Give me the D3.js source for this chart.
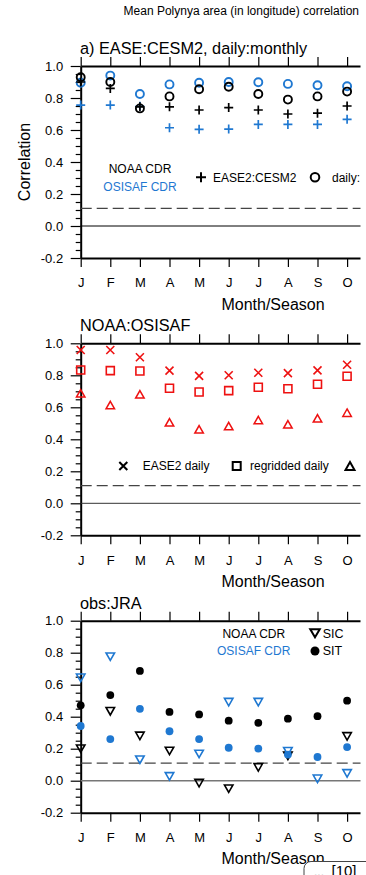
<!DOCTYPE html>
<html>
<head>
<meta charset="utf-8">
<script src="https://cdn.jsdelivr.net/npm/d3@7"></script>
<style>
  html, body { margin: 0; padding: 0; background: #fff; }
  svg { display: block; font-family: "Liberation Sans", Arial, Helvetica, sans-serif; }
</style>
</head>
<body>
<svg id="chart" width="366" height="875"></svg>
<script>
// ---- data ----
const months = ["J", "F", "M", "A", "M", "J", "J", "A", "S", "O"];
const yTicks = [-0.2, 0.0, 0.2, 0.4, 0.6, 0.8, 1.0];
const sigLevel = 0.11;

// a) EASE:CESM2, daily:monthly
const noaaDaily   = [0.93, 0.90, 0.735, 0.81, 0.855, 0.87, 0.825, 0.79, 0.81, 0.84];
const osisafDaily = [0.895, 0.94, 0.825, 0.885, 0.895, 0.90, 0.898, 0.888, 0.88, 0.873];
const noaaEase    = [0.90, 0.86, 0.745, 0.745, 0.725, 0.74, 0.725, 0.70, 0.705, 0.75];
const osisafEase  = [0.756, 0.756, 0.748, 0.614, 0.604, 0.606, 0.635, 0.635, 0.635, 0.667];

// NOAA:OSISAF
const easeDaily      = [0.958, 0.958, 0.9125, 0.829, 0.796, 0.80, 0.816, 0.814, 0.831, 0.866];
const regriddedDaily = [0.833, 0.829, 0.827, 0.719, 0.696, 0.704, 0.725, 0.716, 0.744, 0.794];
const monthlyCorr    = [0.6875, 0.614, 0.681, 0.506, 0.4625, 0.483, 0.52, 0.494, 0.531, 0.566];

// obs:JRA
const sitNoaa   = [0.471, 0.535, 0.686, 0.43, 0.414, 0.375, 0.362, 0.3875, 0.403, 0.50];
const sitOsisaf = [0.342, 0.26, 0.449, 0.309, 0.26, 0.206, 0.201, 0.163, 0.148, 0.21];
const sicNoaa   = [0.20, 0.434, 0.28, 0.186, -0.015, -0.05, 0.083, 0.155, null, 0.277];
const sicOsisaf = [0.643, 0.775, 0.131, 0.027, 0.167, 0.491, 0.491, 0.184, 0.012, 0.046];

// ---- layout ----
const BLUE = "#1f78d1";
const RED = "#ee1111";
const svg = d3.select("#chart");
svg.append("defs").append("clipPath").attr("id", "frame")
  .append("rect").attr("x", 0).attr("y", 0).attr("width", 360.5).attr("height", 875);
const root = svg.append("g").attr("clip-path", "url(#frame)");

const x = d3.scaleLinear().domain([0, 13]).range([80.7, 465.5]);
const yMinor = d3.range(-4, 21).filter(i => i % 4 !== 0).map(i => i / 20);

// marker shapes
const plusPath  = r => `M${-r},0H${r}M0,${-r}V${r}`;
const crossPath = r => `M${-r},${-r}L${r},${r}M${-r},${r}L${r},${-r}`;
const squarePath = s => `M${-s / 2},${-s / 2}h${s}v${s}h${-s}Z`;
const triUpPath = (w, h) => `M0,${-h / 2}L${w / 2},${h / 2}L${-w / 2},${h / 2}Z`;
const triDownPath = (w, h) => `M0,${h / 2}L${w / 2},${-h / 2}L${-w / 2},${-h / 2}Z`;

function makePanel(top, title) {
  const y = d3.scaleLinear().domain([-0.2, 1.0]).range([top + 192, top]);
  const g = root.append("g");

  g.append("text").attr("x", 80).attr("y", top - 12)
    .attr("font-size", 16.3).attr("fill", "#000").text(title);

  g.append("text").attr("x", 273).attr("y", top + 243.7)
    .attr("text-anchor", "middle").attr("font-size", 16).attr("fill", "#000")
    .text("Month/Season");

  const style = sel => {
    sel.attr("font-family", null).attr("font-size", 13);
    sel.selectAll("text").attr("fill", "#000");
    sel.selectAll(".tick line").attr("stroke", "#000").attr("stroke-width", 1.2);
    sel.select(".domain").attr("stroke", "#000").attr("stroke-width", 2);
  };

  g.append("g").attr("transform", `translate(${x(0)},0)`)
    .call(d3.axisLeft(y).tickValues(yMinor).tickSize(5).tickFormat("").tickSizeOuter(0))
    .call(style).call(s => s.select(".domain").remove());
  g.append("g").attr("transform", `translate(${x(0)},0)`)
    .call(d3.axisLeft(y).tickValues(yTicks).tickSize(10).tickPadding(7.5)
      .tickFormat(d => d.toFixed(1)).tickSizeOuter(0))
    .call(style);
  g.append("g").attr("transform", `translate(0,${y(-0.2)})`)
    .call(d3.axisBottom(x).tickValues(d3.range(months.length)).tickFormat(i => months[i])
      .tickSize(9).tickPadding(11).tickSizeOuter(0))
    .call(style);
  g.append("g").attr("transform", `translate(0,${y(1.0)})`)
    .call(d3.axisTop(x).tickValues(d3.range(months.length)).tickFormat("")
      .tickSize(9).tickSizeOuter(0))
    .call(style);

  return { g, y };
}

function refLines(p, zeroColor, zeroWidth) {
  p.g.append("line").attr("x1", x(0)).attr("x2", x(13))
    .attr("y1", p.y(0)).attr("y2", p.y(0))
    .attr("stroke", zeroColor).attr("stroke-width", zeroWidth);
  p.g.append("line").attr("x1", x(0)).attr("x2", x(13))
    .attr("y1", p.y(sigLevel)).attr("y2", p.y(sigLevel))
    .attr("stroke", "#444").attr("stroke-width", 1.2).attr("stroke-dasharray", "11,5");
}

function points(values) {
  return values.map((v, i) => ({ i, v })).filter(d => d.v !== null);
}

function pathSeries(p, values, d, stroke, width, fill) {
  p.g.append("g").selectAll("path").data(points(values)).join("path")
    .attr("transform", o => `translate(${x(o.i)},${p.y(o.v)})`)
    .attr("d", d).attr("fill", fill || "none")
    .attr("stroke", stroke).attr("stroke-width", width);
}

function circleSeries(p, values, r, stroke, width, fill) {
  p.g.append("g").selectAll("circle").data(points(values)).join("circle")
    .attr("cx", o => x(o.i)).attr("cy", o => p.y(o.v)).attr("r", r)
    .attr("fill", fill || "none").attr("stroke", stroke || "none")
    .attr("stroke-width", width || 0);
}

// ---- page title ----
root.append("text").attr("x", 359).attr("y", 15).attr("text-anchor", "end")
  .attr("font-size", 12).attr("fill", "#000")
  .text("Mean Polynya area (in longitude) correlation");

// ---- panel a ----
const pa = makePanel(66, "a) EASE:CESM2, daily:monthly");
refLines(pa, "#000", 1);
root.append("text").attr("transform", "translate(29.5,162) rotate(-90)")
  .attr("text-anchor", "middle").attr("font-size", 16).attr("fill", "#000")
  .text("Correlation");
pathSeries(pa, osisafEase, plusPath(4.5), BLUE, 1.7);
circleSeries(pa, osisafDaily, 4, BLUE, 1.9);
circleSeries(pa, noaaDaily, 4, "#000", 1.9);
pathSeries(pa, noaaEase, plusPath(4.5), "#000", 1.7);

pa.g.append("text").attr("x", 140).attr("y", 172.5).attr("text-anchor", "middle")
  .attr("font-size", 12).attr("fill", "#000").text("NOAA CDR");
pa.g.append("text").attr("x", 140).attr("y", 191).attr("text-anchor", "middle")
  .attr("font-size", 12).attr("fill", BLUE).text("OSISAF CDR");
pa.g.append("path").attr("transform", "translate(201,177.3)").attr("d", plusPath(5))
  .attr("stroke", "#000").attr("stroke-width", 2);
pa.g.append("text").attr("x", 213).attr("y", 181.5).attr("font-size", 12)
  .attr("fill", "#000").text("EASE2:CESM2");
pa.g.append("circle").attr("cx", 315).attr("cy", 177.3).attr("r", 4.3)
  .attr("fill", "none").attr("stroke", "#000").attr("stroke-width", 2);
pa.g.append("text").attr("x", 332).attr("y", 181.5).attr("font-size", 12)
  .attr("fill", "#000").text("daily:");

// ---- panel b ----
const pb = makePanel(343.3, "NOAA:OSISAF");
refLines(pb, "#333", 1);
pathSeries(pb, monthlyCorr, triUpPath(8.5, 7.5), RED, 1.5);
pathSeries(pb, regriddedDaily, squarePath(8), RED, 1.6);
pathSeries(pb, easeDaily, crossPath(4), RED, 1.6);

pb.g.append("path").attr("transform", "translate(123.3,466)").attr("d", crossPath(4))
  .attr("stroke", "#000").attr("stroke-width", 2);
pb.g.append("text").attr("x", 142.7).attr("y", 470).attr("font-size", 12)
  .attr("fill", "#000").text("EASE2 daily");
pb.g.append("path").attr("transform", "translate(236.7,466)").attr("d", squarePath(8))
  .attr("fill", "none").attr("stroke", "#000").attr("stroke-width", 2);
pb.g.append("text").attr("x", 250).attr("y", 470).attr("font-size", 12)
  .attr("fill", "#000").text("regridded daily");
pb.g.append("path").attr("transform", "translate(350,466)").attr("d", triUpPath(9, 8))
  .attr("fill", "none").attr("stroke", "#000").attr("stroke-width", 2);

// ---- panel c ----
const pc = makePanel(620.7, "obs:JRA");
refLines(pc, "#777", 1.6);
circleSeries(pc, sitNoaa, 3.9, null, 0, "#000");
pathSeries(pc, sicNoaa, triDownPath(8.5, 7.5), "#000", 1.6);
circleSeries(pc, sitOsisaf, 3.9, null, 0, BLUE);
pathSeries(pc, sicOsisaf, triDownPath(8.5, 7.5), BLUE, 1.6);

pc.g.append("text").attr("x", 253.8).attr("y", 637.5).attr("text-anchor", "middle")
  .attr("font-size", 12).attr("fill", "#000").text("NOAA CDR");
pc.g.append("text").attr("x", 253.7).attr("y", 655.3).attr("text-anchor", "middle")
  .attr("font-size", 12).attr("fill", BLUE).text("OSISAF CDR");
pc.g.append("path").attr("transform", "translate(315,633.3)").attr("d", triDownPath(9.5, 8))
  .attr("fill", "none").attr("stroke", "#000").attr("stroke-width", 2);
pc.g.append("text").attr("x", 322.7).attr("y", 637.7).attr("font-size", 12.5)
  .attr("fill", "#000").text("SIC");
pc.g.append("circle").attr("cx", 315).attr("cy", 651).attr("r", 4.5).attr("fill", "#000");
pc.g.append("text").attr("x", 322.7).attr("y", 655.4).attr("font-size", 12.5)
  .attr("fill", "#000").text("SIT");

// ---- page badge ----
const badge = svg.append("g");
badge.append("rect").attr("x", 304).attr("y", 861.5).attr("width", 70).attr("height", 30)
  .attr("rx", 7).attr("fill", "#fff").attr("stroke", "#444").attr("stroke-width", 1);
badge.append("text").attr("x", 314).attr("y", 876).attr("font-size", 12)
  .attr("fill", "#aaa").text("...");
badge.append("text").attr("x", 331.5).attr("y", 875.5).attr("font-size", 15)
  .attr("fill", "#000").text("[10]");
</script>
</body>
</html>
